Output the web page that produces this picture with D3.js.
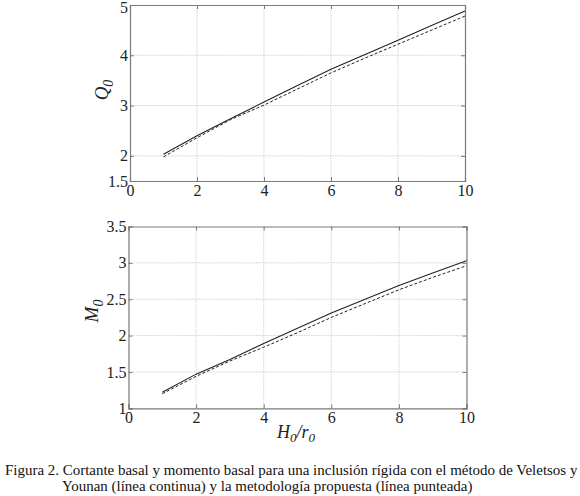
<!DOCTYPE html>
<html>
<head>
<meta charset="utf-8">
<script src="https://cdn.jsdelivr.net/npm/d3@7"></script>
<style>
body{margin:0;background:#fff;}
svg, svg text{font-family:"Liberation Serif","Times New Roman",Times,serif !important;}
</style>
</head>
<body>
<svg id="c" width="580" height="496"></svg>
<script>
const xValues = [1,2,3,4,5,6,7,8,9,10];
const qSolid  = [2.03,2.40,2.74,3.07,3.40,3.72,4.01,4.30,4.59,4.88];
const qDashed = [1.98,2.36,2.72,3.01,3.33,3.65,3.94,4.22,4.50,4.78];
const mSolid  = [1.22,1.47,1.67,1.89,2.10,2.31,2.50,2.69,2.86,3.03];
const mDashed = [1.20,1.44,1.65,1.84,2.04,2.25,2.44,2.63,2.80,2.96];
const xTicks = [0,2,4,6,8,10];
const qTicks = [1.5,2,3,4,5];
const mTicks = [1,1.5,2,2.5,3,3.5];
const captionLines = [
  "Figura 2. Cortante basal y momento basal para una inclusión rígida con el método de Veletsos y",
  "Younan (línea continua) y la metodología propuesta (línea punteada)"
];

const svg = d3.select("#c");

function panel(box, yDomain, yTicks, solid, dashed, ylab, ylabPos){
  const x = d3.scaleLinear().domain([0,10]).range([box.l, box.r]);
  const y = d3.scaleLinear().domain(yDomain).range([box.b, box.t]);
  const g = svg.append("g");
  g.append("g").selectAll("line").data(xTicks.filter(d=>d>0&&d<10)).join("line")
    .attr("x1",d=>x(d)).attr("x2",d=>x(d)).attr("y1",box.t).attr("y2",box.b)
    .attr("stroke","#c8c8c8").attr("stroke-width",0.8).attr("stroke-dasharray","1.5,1");
  g.append("g").selectAll("line").data(yTicks.filter(d=>d>yDomain[0]&&d<yDomain[1])).join("line")
    .attr("y1",d=>y(d)).attr("y2",d=>y(d)).attr("x1",box.l).attr("x2",box.r)
    .attr("stroke","#c8c8c8").attr("stroke-width",0.8).attr("stroke-dasharray","1.5,1");
  const ax = d3.axisBottom(x).tickValues(xTicks).tickSize(-4).tickPadding(6).tickFormat(d3.format("d"));
  const ay = d3.axisLeft(y).tickValues(yTicks).tickSize(-4).tickPadding(2).tickFormat(d=>String(d));
  const gx = g.append("g").attr("transform",`translate(0,${box.b})`).call(ax);
  const gy = g.append("g").attr("transform",`translate(${box.l},0)`).call(ay);
  const gx2 = g.append("g").attr("transform",`translate(0,${box.t})`).call(d3.axisTop(x).tickValues(xTicks).tickSize(-4).tickFormat(""));
  const gy2 = g.append("g").attr("transform",`translate(${box.r},0)`).call(d3.axisRight(y).tickValues(yTicks).tickSize(-4).tickFormat(""));
  [gx,gy,gx2,gy2].forEach(a=>{
    a.attr("font-family",null);
    a.select(".domain").attr("stroke","#7a7a7a").attr("stroke-width",1.2);
    a.selectAll(".tick line").attr("stroke","#7a7a7a");
    a.selectAll("text").attr("font-size",16).attr("fill","#222");
  });
  gx.selectAll("text").attr("dy","0.55em");
  // keep the top-most y label inside the picture
  gy.selectAll(".tick text").filter(d=>d===yDomain[1]).attr("dy", function(){ return box.t < 10 ? "0.45em" : "0.32em"; });
  const line = d3.line().x((d,i)=>x(xValues[i])).y(d=>y(d));
  g.append("path").datum(solid).attr("d",line).attr("fill","none").attr("stroke","#222").attr("stroke-width",1.1);
  g.append("path").datum(dashed).attr("d",line).attr("fill","none").attr("stroke","#222").attr("stroke-width",1).attr("stroke-dasharray","3,2");
  const t = g.append("text").attr("transform",`translate(${ylabPos[0]},${ylabPos[1]}) rotate(-90)`)
    .attr("text-anchor","middle").attr("font-size",19).attr("font-style","italic").attr("fill","#222");
  t.append("tspan").text(ylab);
  t.append("tspan").attr("font-size",14).attr("dy",5).text("0");
}

panel({l:130,r:465,t:5,b:181},[1.5,5],qTicks,qSolid,qDashed,"Q",[108,90]);
panel({l:128.5,r:466.5,t:226.5,b:408.3},[1,3.5],mTicks,mSolid,mDashed,"M",[98,311]);

(function(){
  const xt = svg.append("text").attr("x",296).attr("y",438).attr("text-anchor","middle")
    .attr("font-size",18).attr("font-style","italic").attr("fill","#222");
  xt.append("tspan").text("H");
  xt.append("tspan").attr("font-size",13).attr("dy",4).text("0");
  xt.append("tspan").attr("dy",-4).text("/r");
  xt.append("tspan").attr("font-size",13).attr("dy",4).text("0");
})();

const c1 = svg.append("text").attr("x",5).attr("y",475).attr("font-size",14).attr("fill","#111").text(captionLines[0]);
const w = c1.node().getComputedTextLength();
const fs = 14 * 573 / w;
c1.attr("font-size",fs);
svg.append("text").attr("x",62).attr("y",491).attr("font-size",fs).attr("fill","#111").text(captionLines[1]);
</script>
</body>
</html>
